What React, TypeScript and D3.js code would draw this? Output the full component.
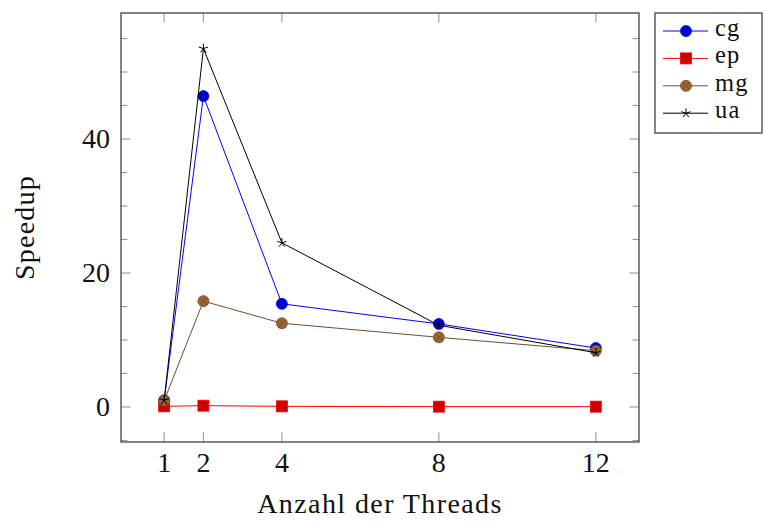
import React from "react";
import * as d3 from "d3";

const threads = [1, 2, 4, 8, 12];
const cg = [1.0, 46.4, 15.4, 12.4, 8.8];
const ep = [0.1, 0.2, 0.1, 0.05, 0.05];
const mg = [0.95, 15.8, 12.5, 10.4, 8.4];
const ua = [1.0, 53.5, 24.5, 12.2, 8.1];
const seriesNames = ["cg", "ep", "mg", "ua"];
const yMajorTicks = [0, 20, 40];
const yMinorTicks = [-5, 5, 10, 15, 25, 30, 35, 45, 50, 55];
const xTickLabels = ["1", "2", "4", "8", "12"];

const W = 765;
const H = 524;
const L = 121, R = 639, T = 13, B = 442;
const FONT = "'Liberation Serif', 'Times New Roman', serif";

type Style = { stroke: string; fill: string; mark: string };
const styles: Style[] = [
  { stroke: "#0000ff", fill: "#0000cc", mark: "circle" },
  { stroke: "#ff0000", fill: "#cc0000", mark: "square" },
  { stroke: "#734d26", fill: "#996633", mark: "otimes" },
  { stroke: "#000000", fill: "none", mark: "star" },
];

function Marker({ x, y, s }: { x: number; y: number; s: Style }) {
  if (s.mark === "circle") {
    return <circle cx={x} cy={y} r={5.5} fill={s.fill} stroke={s.stroke} strokeWidth={0.8} />;
  }
  if (s.mark === "square") {
    return <rect x={x - 5.5} y={y - 5.5} width={11} height={11} fill={s.fill} stroke={s.stroke} strokeWidth={0.8} />;
  }
  if (s.mark === "otimes") {
    const r = 5.5;
    const d = r * Math.SQRT1_2;
    return (
      <g>
        <circle cx={x} cy={y} r={r} fill={s.fill} stroke={s.stroke} strokeWidth={0.8} />
        <path d={`M${x - d},${y - d}L${x + d},${y + d}M${x - d},${y + d}L${x + d},${y - d}`} stroke={s.stroke} strokeWidth={0.8} />
      </g>
    );
  }
  const r = 4.8;
  let p = "";
  for (let k = 0; k < 5; k++) {
    const a = -Math.PI / 2 + (k * 2 * Math.PI) / 5;
    p += `M${x},${y}L${x + r * Math.cos(a)},${y + r * Math.sin(a)}`;
  }
  return <path d={p} stroke={s.stroke} strokeWidth={1} fill="none" />;
}

export default function App() {
  const x = d3.scaleLinear().domain([-0.1, 13.1]).range([L, R]);
  const y = d3.scaleLinear().domain([-5.224, 58.806]).range([B, T]);
  const data = [cg, ep, mg, ua];
  const line = d3
    .line<[number, number]>()
    .x((d) => x(d[0]))
    .y((d) => y(d[1]));

  const tickColor = "#999";
  const major = 9.5;
  const minor = 6.5;

  return (
    <svg width={W} height={H} style={{ position: "absolute", left: 0, top: 0, background: "#fff" }} fontFamily={FONT}>
      <rect x={0} y={0} width={W} height={H} fill="#fff" />
      {/* ticks */}
      <g stroke={tickColor} strokeWidth={1.1}>
        {threads.map((t, i) => (
          <g key={"xt" + i}>
            <line x1={x(t)} x2={x(t)} y1={B} y2={B - major} />
            <line x1={x(t)} x2={x(t)} y1={T} y2={T + major} />
          </g>
        ))}
        {yMajorTicks.map((v, i) => (
          <g key={"yt" + i}>
            <line x1={L} x2={L + major} y1={y(v)} y2={y(v)} />
            <line x1={R} x2={R - major} y1={y(v)} y2={y(v)} />
          </g>
        ))}
        {yMinorTicks.map((v, i) => (
          <g key={"ym" + i}>
            <line x1={L} x2={L + minor} y1={y(v)} y2={y(v)} />
            <line x1={R} x2={R - minor} y1={y(v)} y2={y(v)} />
          </g>
        ))}
      </g>
      {/* series */}
      {data.map((vals, si) => {
        const pts = threads.map((t, i) => [t, vals[i]] as [number, number]);
        return (
          <g key={"s" + si}>
            <path d={line(pts) || ""} fill="none" stroke={styles[si].stroke} strokeWidth={1} />
            {pts.map((p, i) => (
              <Marker key={i} x={x(p[0])} y={y(p[1])} s={styles[si]} />
            ))}
          </g>
        );
      })}
      {/* axis box */}
      <rect x={L} y={T} width={R - L} height={B - T} fill="none" stroke="#333" strokeWidth={1.2} />
      {/* tick labels */}
      <g fontSize={28} fill="#111">
        {threads.map((t, i) => (
          <text key={"xl" + i} x={x(t)} y={472} textAnchor="middle">
            {xTickLabels[i]}
          </text>
        ))}
        {yMajorTicks.map((v, i) => (
          <text key={"yl" + i} x={110} y={y(v) + 9.5} textAnchor="end">
            {String(v)}
          </text>
        ))}
      </g>
      {/* axis titles */}
      <text x={(L + R) / 2} y={513} textAnchor="middle" fontSize={28} letterSpacing={1.4} fill="#111">
        Anzahl der Threads
      </text>
      <text transform={`translate(34,${(T + B) / 2}) rotate(-90)`} textAnchor="middle" fontSize={28} letterSpacing={1.2} fill="#111">
        Speedup
      </text>
      {/* legend */}
      <rect x={655} y={13} width={107} height={120} fill="#fff" stroke="#333" strokeWidth={1.2} />
      {seriesNames.map((n, i) => {
        const ry = 31 + i * 27.4;
        return (
          <g key={"lg" + i}>
            <line x1={663} x2={708} y1={ry} y2={ry} stroke={styles[i].stroke} strokeWidth={1} />
            <Marker x={686} y={ry} s={styles[i]} />
            <text x={715} y={ry + 5} fontSize={24.5} letterSpacing={1.2} fill="#111">
              {n}
            </text>
          </g>
        );
      })}
    </svg>
  );
}
